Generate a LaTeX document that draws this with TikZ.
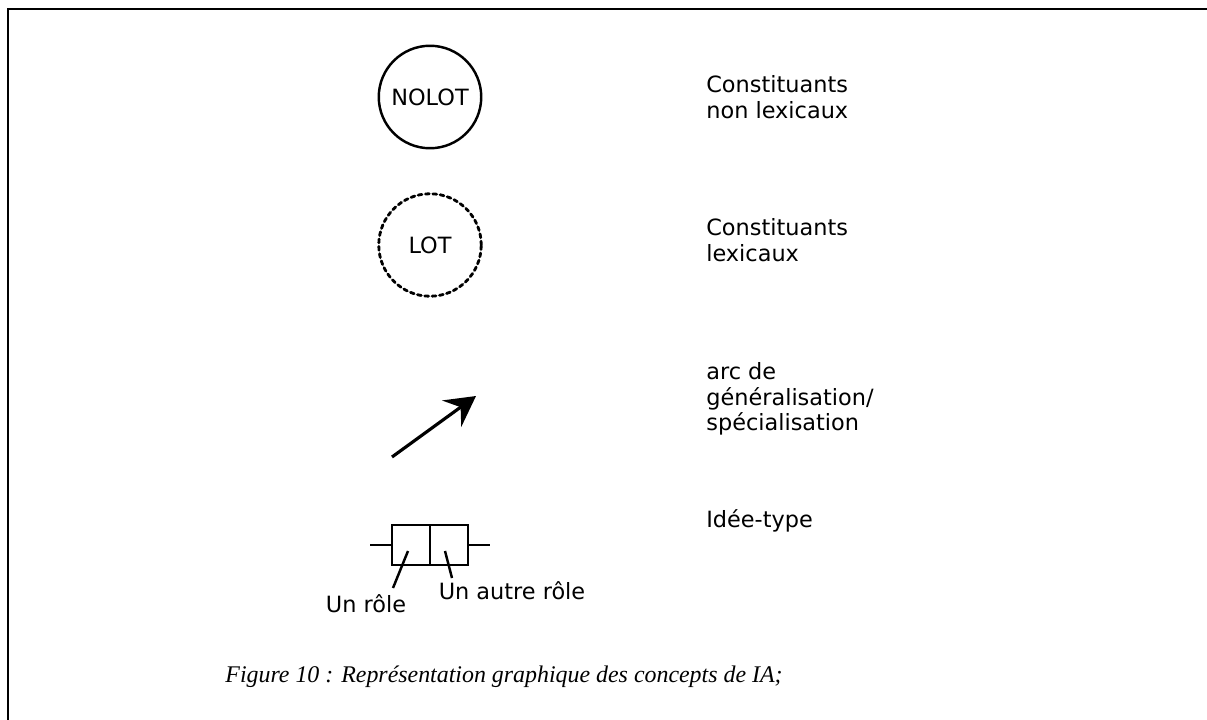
\documentclass[tikz,border=0pt]{standalone}
\usepackage{fontspec}
\newfontfamily\legendfont{DejaVu Sans}
\newfontfamily\captionfont{Liberation Serif}
\usetikzlibrary{arrows.meta,positioning}

\begin{document}
\begin{tikzpicture}[
   x=0.02cm,y=-0.02cm,
   every node/.style={font=\legendfont\fontsize{12.75}{14.5}\selectfont},
   fullcirc/.style={draw,circle,line width=1.4pt,minimum size=2.05cm,inner sep=0pt},
   dotcirc/.style={fullcirc,line width=1.6pt,dash pattern=on 2.2pt off 2pt,line cap=round},
   desc/.style={anchor=west,align=left,inner sep=0pt},
   rolebox/.style={draw,line width=1.3pt,minimum width=0.76cm,minimum height=0.8cm,
                   inner sep=0pt,outer sep=0pt},
   lbl/.style={inner sep=0pt},
   genarr/.style={-{Stealth[length=6mm,width=6.5mm,inset=2.2mm]},line width=1.8pt},
   ptr/.style={line width=1.4pt}
 ]
  \useasboundingbox (0,0) rectangle (1207,720);
  % open frame
  \draw[line width=1.6pt] (1207,9) -- (8,9) -- (8,720);

  % symbols
  \node[fullcirc] (nolot) at (430,97) {NOLOT};
  \node[dotcirc] (lot) at (430,245) {LOT};
  \coordinate (gstart) at (392,457);
  \coordinate (gend) at (476,396);
  \draw[genarr] (gstart) -- (gend);

  \node[rolebox] (role1) at (411,545) {};
  \node[rolebox,right=0pt of role1] (role2) {};
  \coordinate (stubL) at (370,545);
  \coordinate (stubR) at (490,545);
  \draw[ptr] (stubL) -- (role1.west);
  \draw[ptr] (role2.east) -- (stubR);
  \node[lbl] (unrole) at (366,604) {Un rôle};
  \node[lbl] (autrerole) at (512,591) {Un autre rôle};
  \coordinate (p1) at (408,551);
  \coordinate (q1) at (393,588);
  \coordinate (p2) at (445,551);
  \coordinate (q2) at (452,578);
  \draw[ptr] (p1) -- (q1);
  \draw[ptr] (p2) -- (q2);

  % descriptions
  \node[desc] (dnolot) at (706,97) {Constituants\\non lexicaux};
  \node[desc] (dlot) at (706,240) {Constituants\\lexicaux};
  \node[desc] (darc) at (706,399) {arc de\\généralisation/\\spécialisation};
  \node[desc] (didee) at (706,521) {Idée-type};

  % caption
  \node[font=\captionfont\itshape\fontsize{13.6}{16}\selectfont] (caption) at (504,677)
     {Figure 10 : Représentation graphique des concepts de IA;};
\end{tikzpicture}
\end{document}
